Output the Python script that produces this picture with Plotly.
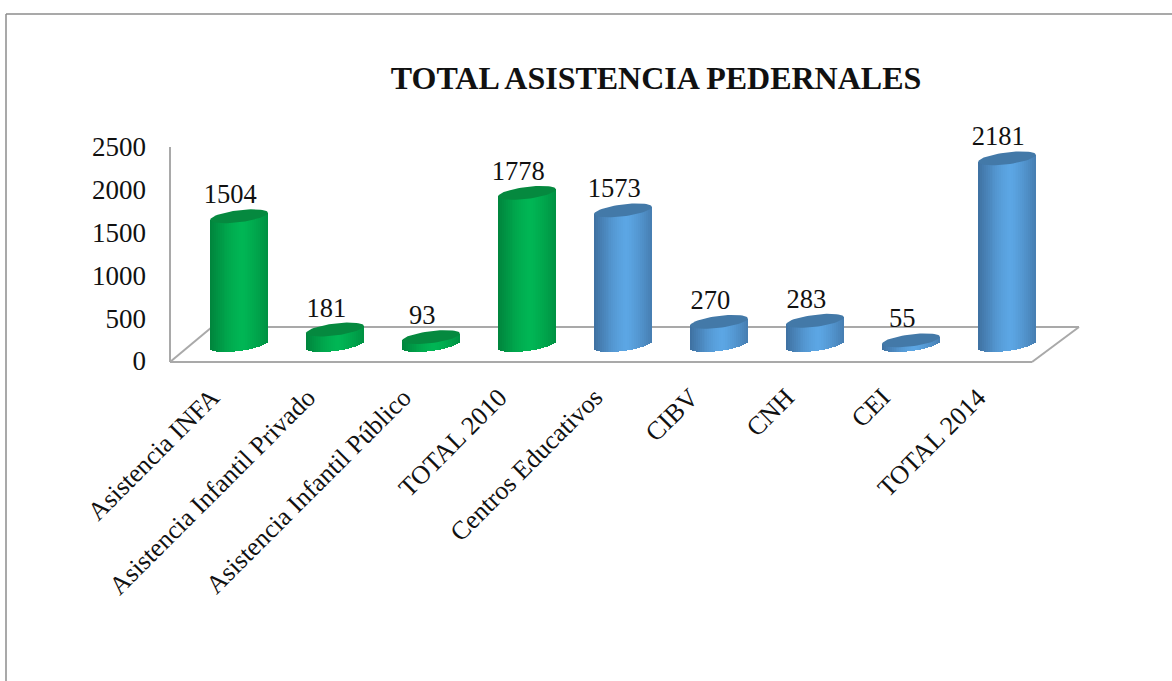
import math
import plotly.graph_objects as go

categories = ["Asistencia INFA", "Asistencia Infantil Privado", "Asistencia Infantil Público",
              "TOTAL 2010", "Centros Educativos", "CIBV", "CNH", "CEI", "TOTAL 2014"]
values = [1504, 181, 93, 1778, 1573, 270, 283, 55, 2181]
groups = ["g", "g", "g", "g", "b", "b", "b", "b", "b"]
y_ticks = [0, 500, 1000, 1500, 2000, 2500]

W, H = 1172, 681
FONT = "Liberation Serif"
PALETTE = {
    "g": {"edge": (0, 132, 60), "mid": (0, 182, 84), "top": "#05893f"},
    "b": {"edge": (62, 112, 160), "mid": (92, 166, 228), "top": "#4379a8"},
}
UNITS_PER_PX = 2500 / 214
HALF_W = 0.30          # cylinder half width, category units
ELL_B = 6 * UNITS_PER_PX
ELL_TILT = 3.5 * UNITS_PER_PX
STRIPS = 30


def shade(group, t):
    pal = PALETTE[group]
    k = 1 - min(1, abs(t - 0.1) / 1.1) ** 1.4
    return "rgb(%d,%d,%d)" % tuple(round(e + (m - e) * k) for e, m in zip(pal["edge"], pal["mid"]))


xs, heights, bases, widths, colors = [], [], [], [], []
for i, (v, g) in enumerate(zip(values, groups)):
    for s in range(STRIPS):
        t = -1 + (2 * s + 1) / STRIPS
        base = -ELL_B * math.sqrt(max(0, 1 - t * t)) + ELL_TILT * t
        xs.append(i + t * HALF_W)
        bases.append(base)
        heights.append(v + ELL_TILT * t - base)
        widths.append(2 * HALF_W / STRIPS * 1.15)
        colors.append(shade(g, t))

fig = go.Figure()
# invisible trace so that the visible front axes (x / y) are drawn
fig.add_trace(go.Scatter(x=list(range(len(categories))), y=values, xaxis="x", yaxis="y", mode="markers",
                         marker=dict(opacity=0), hoverinfo="skip", showlegend=False))
fig.add_trace(go.Bar(x=xs, y=heights, base=bases, width=widths, xaxis="x2", yaxis="y2",
                     marker=dict(color=colors, line=dict(width=0)), hoverinfo="skip", showlegend=False))

for i, (v, g) in enumerate(zip(values, groups)):
    ex, ey = [], []
    for k in range(61):
        a = 2 * math.pi * k / 60
        ex.append(i + HALF_W * math.cos(a))
        ey.append(v + ELL_B * math.sin(a) + ELL_TILT * math.cos(a))
    fig.add_trace(go.Scatter(x=ex, y=ey, xaxis="x2", yaxis="y2", mode="lines", fill="toself",
                             fillcolor=PALETTE[g]["top"], line=dict(width=0, color=PALETTE[g]["top"]),
                             hoverinfo="skip", showlegend=False))

fig.add_trace(go.Scatter(x=[i - 0.09 for i in range(len(values))], y=[v + 19.5 * UNITS_PER_PX for v in values],
                         xaxis="x2", yaxis="y2", mode="text", text=[str(v) for v in values],
                         textposition="middle center", textfont=dict(family=FONT, size=26.5, color="#111111"),
                         hoverinfo="skip", showlegend=False, cliponaxis=False))


def px(x):
    return x / W


def py(y):
    return 1 - y / H


GREY = "#a9a9a9"
shapes = []
for x0, y0, x1, y1, c, w in [
    (212, 327, 1079, 327, GREY, 2), (170, 362, 212, 327, GREY, 2),
    (1079, 327, 1032, 362, GREY, 2), (170, 362, 1032, 362, GREY, 2), (170, 147, 170, 362, GREY, 2),
    (6, 14, 1172, 14, "#8c8c8c", 1.5), (6, 14, 6, 681, "#8c8c8c", 1.5),
]:
    shapes.append(dict(type="line", xref="paper", yref="paper", layer="below",
                       x0=px(x0), y0=py(y0), x1=px(x1), y1=py(y1), line=dict(color=c, width=w)))

rng_low = -200
y2_bottom = 345 + 200 / UNITS_PER_PX
fig.update_layout(
    width=W, height=H, autosize=False,
    margin=dict(l=0, r=0, t=0, b=0, autoexpand=False),
    paper_bgcolor="white", plot_bgcolor="rgba(0,0,0,0)",
    barmode="overlay", bargap=0,
    shapes=shapes,
    title=dict(text="<b>TOTAL ASISTENCIA PEDERNALES</b>", x=656 / W, xanchor="center", y=1 - 78 / H, yanchor="middle",
               font=dict(family=FONT, size=32, color="#111111")),
    xaxis=dict(domain=[px(164), px(1026)], range=[-0.5, 8.5], tickmode="array", automargin=False,
               tickvals=list(range(len(categories))), ticktext=categories, tickangle=-45,
               tickfont=dict(family=FONT, size=26, color="#111111"), showgrid=False, zeroline=False,
               showline=False, ticks="", anchor="y", ticklabelstandoff=15),
    yaxis=dict(domain=[py(361), py(147)], range=[0, 2500], tickmode="array", tickvals=y_ticks, automargin=False,
               tickfont=dict(family=FONT, size=27, color="#111111"), showgrid=False, zeroline=False,
               showline=False, ticks="", anchor="x", ticklabelstandoff=17),
    xaxis2=dict(domain=[px(191), px(1055)], range=[-0.5, 8.5], visible=False, anchor="y2", automargin=False),
    yaxis2=dict(domain=[py(y2_bottom), py(131)], range=[rng_low, 2500], visible=False, anchor="x2", automargin=False),
)
fig.write_html("out.html", config=dict(displayModeBar=False),
               post_script="document.body.style.margin='0';")
